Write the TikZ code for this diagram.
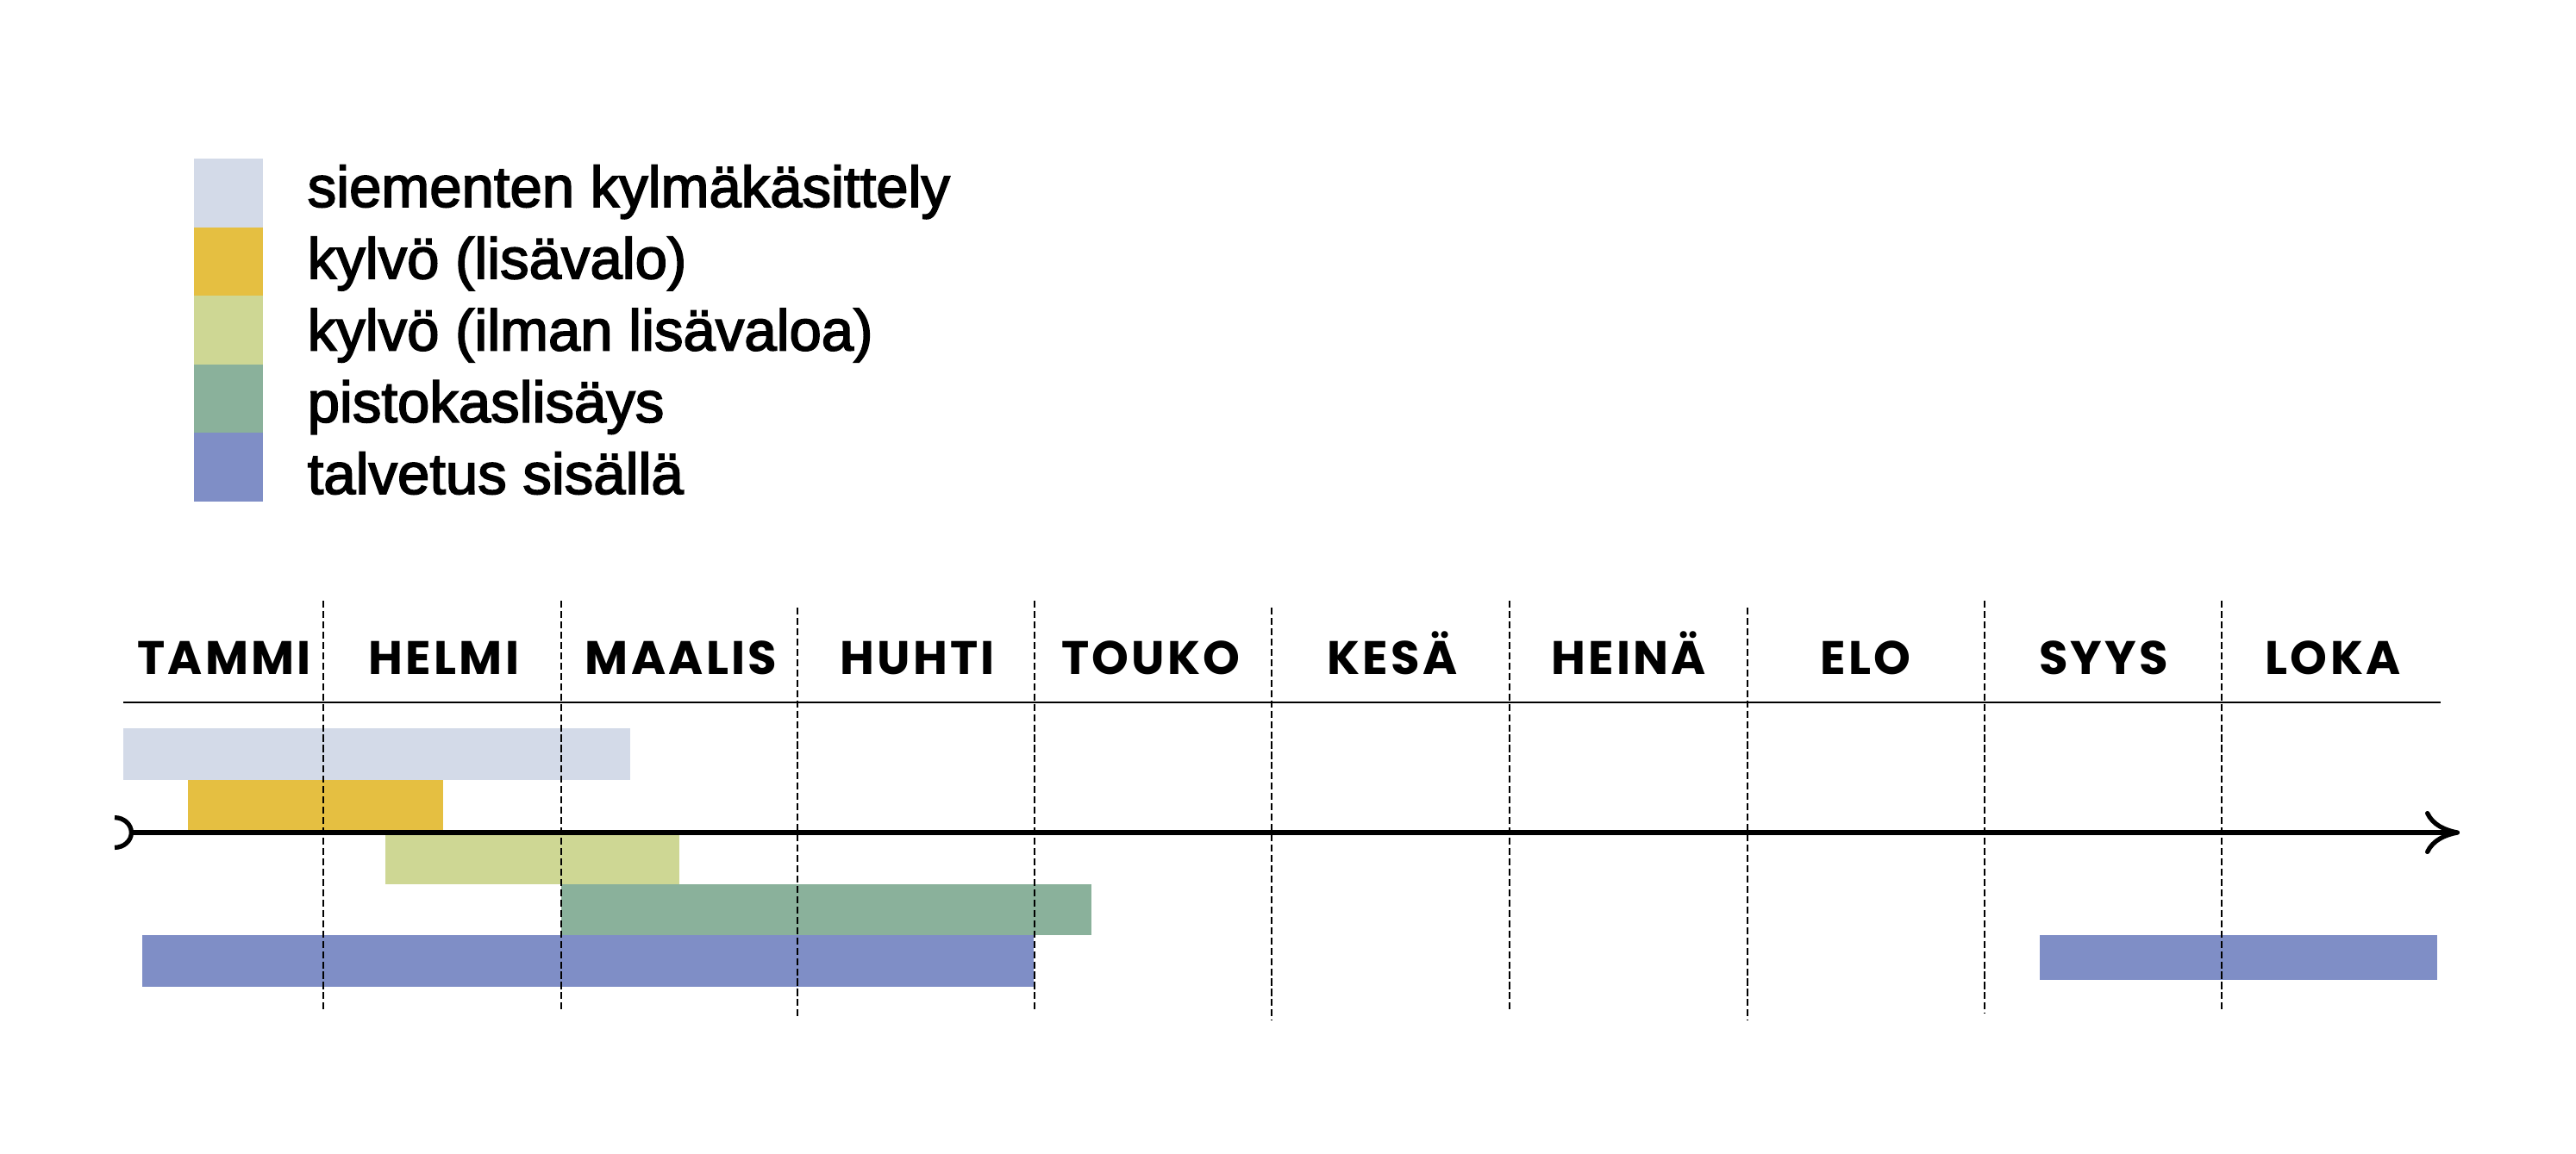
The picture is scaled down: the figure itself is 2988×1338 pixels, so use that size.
\documentclass[tikz,border=0pt]{standalone}
\usepackage{fontspec}
\setmainfont{Liberation Sans}[BoldFont = Liberation Sans, BoldFeatures = {FakeBold = 2.5}]
\newfontfamily\monthfont[LetterSpace=6]{Poppins}
\usetikzlibrary{arrows.meta}

\definecolor{kylma}{HTML}{D3DAE8}
\definecolor{lisavalo}{HTML}{E5BF41}
\definecolor{ilman}{HTML}{CED794}
\definecolor{pistokas}{HTML}{8AB19B}
\definecolor{talvetus}{HTML}{7F8EC6}

\begin{document}
\begin{tikzpicture}[x = 0.01cm, y = -0.01cm,
	legend/.style = {anchor = base west, inner sep = 0pt, font = \bfseries\fontsize{19.07pt}{22pt}\selectfont},
	month/.style = {anchor = base, inner sep = 0pt, font = \monthfont\bfseries\fontsize{15.5pt}{18pt}\selectfont},
	grid/.style = {line width = 0.55pt, dash pattern = on 2.3pt off 1.1pt}]

	\useasboundingbox (0, 0) rectangle (2988, 1338);

	% Legend

	\foreach \col/\txt [count = \i from 0] in {kylma/siementen kylmäkäsittely, lisavalo/kylvö (lisävalo), ilman/kylvö (ilman lisävaloa), pistokas/pistokaslisäys, talvetus/talvetus sisällä}
	{
		\fill [\col] (225, 184 + 79.5 * \i) rectangle ++(80, 79.5);
		\node [legend] (leg-\col) at (356, 240 + 83.25 * \i) {\txt};
	}

	% Months

	\foreach \m/\x [count = \i] in {TAMMI/260, HELMI/515, MAALIS/790, HUHTI/1064, TOUKO/1335, KESÄ/1615, HEINÄ/1889, ELO/2164, SYYS/2440, LOKA/2706}
		\node [month] (month-\i) at (\x, 782) {\m};

	\draw [line width = 0.6pt] (143, 815) -- (2831, 815);

	% Bars

	\foreach \col/\xa/\ya/\xb/\yb in {kylma/143/845/731/905, lisavalo/218/905/514/965, ilman/447/965/788/1026, pistokas/651/1026/1266/1085, talvetus/165/1085/1199/1145, talvetus/2366/1085/2827/1137}
		\fill [\col] (\xa, \ya) rectangle (\xb, \yb);

	% Month borders

	\foreach \x/\a/\b in {375/697/1175, 651/697/1175, 925/705/1183, 1200/697/1175, 1475/705/1184, 1751/697/1175, 2027/705/1184, 2302/697/1176, 2577/697/1175}
		\draw [grid] (\x, \a) -- (\x, \b);

	% Time axis

	\coordinate (start) at (133, 966);
	\coordinate (end) at (2853, 966);
	\draw [line width = 1.9pt, {Arc Barb[reversed, width = .4cm, length = .22cm, line width = 1.5pt]}-{Computer Modern Rightarrow[length = .4cm, width = .5cm, line width = 1.5pt]}] (start) -- (end);

\end{tikzpicture}
\end{document}
